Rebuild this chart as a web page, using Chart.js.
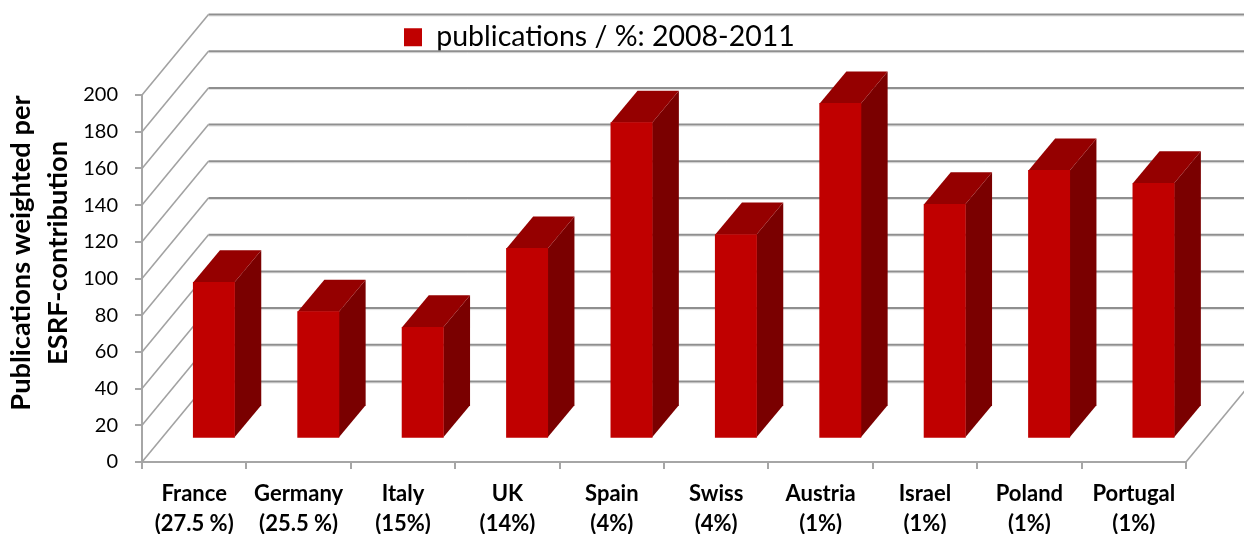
<!DOCTYPE html>
<html>
<head>
<meta charset="utf-8">
<style>
  html, body { margin: 0; padding: 0; background: #fff; }
  canvas { display: block; }
</style>
</head>
<body>
<canvas id="chart-1" width="1244" height="534"></canvas>
<script src="https://cdn.jsdelivr.net/npm/chart.js@4"></script>
<script>
const categories = [
    ['France', '(27.5 %)'], ['Germany', '(25.5 %)'], ['Italy', '(15%)'], ['UK', '(14%)'], ['Spain', '(4%)'],
    ['Swiss', '(4%)'], ['Austria', '(1%)'], ['Israel', '(1%)'], ['Poland', '(1%)'], ['Portugal', '(1%)']
];
const publications = [85, 69, 60.5, 103.5, 172, 111, 182.5, 127.5, 146, 139];
const seriesName = 'publications / %: 2008-2011';
const axisTitle = ['Publications weighted per', 'ESRF-contribution'];

const fontName = 'Lato, Carlito, "Open Sans", sans-serif';
const wallDepth = { x: 66.5, y: -80.5 };     // back wall offset from the front axes
const barShift = { x: 19.7, y: -23.7 };      // bars stand part way into the floor
const barDepth = { x: 26.7, y: -32 };

function line(ctx, x1, y1, x2, y2) {
    ctx.beginPath();
    ctx.moveTo(x1, y1);
    ctx.lineTo(x2, y2);
    ctx.stroke();
}

function face(ctx, color, pts) {
    ctx.fillStyle = color;
    ctx.beginPath();
    pts.forEach((p, i) => i ? ctx.lineTo(p[0], p[1]) : ctx.moveTo(p[0], p[1]));
    ctx.closePath();
    ctx.fill();
}

const wallsPlugin = {
    id: 'walls',
    beforeDraw(chart) {
        // legend sits over the back wall, not in its own layout row
        const legend = chart.legend;
        legend.left = 394;
        legend.top = 13;
    },
    beforeDatasetsDraw(chart) {
        const ctx = chart.ctx;
        const y = chart.scales.y;
        const left = chart.chartArea.left;
        const right = chart.chartArea.right;
        ctx.save();
        y.ticks.forEach(t => {
            const py = y.getPixelForValue(t.value);
            ctx.strokeStyle = '#a2a2a2';
            ctx.lineWidth = 1.6;
            line(ctx, left, py, left + wallDepth.x, py + wallDepth.y);
            ctx.strokeStyle = '#e0e0e0';
            ctx.lineWidth = 1;
            line(ctx, left + wallDepth.x, py + wallDepth.y + 1.5, chart.width, py + wallDepth.y + 1.5);
            ctx.strokeStyle = '#8f8f8f';
            ctx.lineWidth = 2;
            line(ctx, left + wallDepth.x, py + wallDepth.y, chart.width, py + wallDepth.y);
        });
        const floor = y.getPixelForValue(0);
        ctx.strokeStyle = '#a2a2a2';
        ctx.lineWidth = 1.6;
        line(ctx, right, floor, right + wallDepth.x, floor + wallDepth.y);
        ctx.restore();
    },
    beforeDatasetDraw(chart) {
        const ctx = chart.ctx;
        ctx.save();
        ctx.translate(barShift.x, barShift.y);
        chart.getDatasetMeta(0).data.forEach(bar => {
            const l = bar.x - bar.width / 2;
            const r = bar.x + bar.width / 2;
            const d = barDepth;
            face(ctx, '#7a0000', [[r, bar.y], [r + d.x, bar.y + d.y], [r + d.x, bar.base + d.y], [r, bar.base]]);
            face(ctx, '#950000', [[l, bar.y], [l + d.x, bar.y + d.y], [r + d.x, bar.y + d.y], [r, bar.y]]);
        });
    },
    afterDatasetDraw(chart) {
        chart.ctx.restore();
    },
    afterDraw(chart) {
        const ctx = chart.ctx;
        ctx.save();
        ctx.fillStyle = '#000';
        ctx.font = 'bold 27.3px ' + fontName;
        ctx.textAlign = 'center';
        ctx.textBaseline = 'middle';
        ctx.translate(21, 253);
        ctx.rotate(-Math.PI / 2);
        ctx.fillText(axisTitle[0], 0, 0);
        ctx.fillText(axisTitle[1], 0, 37);
        ctx.restore();
    }
};

const axisGrey = '#a6a6a6';

new Chart(document.getElementById('chart-1').getContext('2d'), {
    type: 'bar',
    data: {
        labels: categories,
        datasets: [{
            label: seriesName,
            data: publications,
            backgroundColor: '#c00000',
            borderWidth: 0,
            barThickness: 41.3,
            clip: false
        }]
    },
    options: {
        responsive: false,
        animation: false,
        layout: { autoPadding: false, padding: { top: 95, right: 58, bottom: 0, left: 0 } },
        plugins: {
            tooltip: { enabled: false },
            legend: {
                position: 'chartArea',
                align: 'start',
                labels: {
                    boxWidth: 18,
                    boxHeight: 18,
                    color: '#000',
                    font: { family: fontName, size: 28.5 }
                }
            }
        },
        scales: {
            x: {
                afterFit: s => { s.height = 72; },
                border: { color: axisGrey, width: 2 },
                grid: { color: axisGrey, lineWidth: 2, drawOnChartArea: false, tickLength: 7 },
                ticks: {
                    color: '#000',
                    padding: 10,
                    maxRotation: 0,
                    autoSkip: false,
                    font: { family: fontName, size: 22, weight: 'bold', lineHeight: 1.35 }
                }
            },
            y: {
                min: 0,
                max: 200,
                afterFit: s => { s.width = 142; },
                border: { color: axisGrey, width: 2 },
                grid: { color: axisGrey, lineWidth: 2, drawOnChartArea: false, tickLength: 7 },
                ticks: {
                    stepSize: 20,
                    color: '#000',
                    padding: 17,
                    font: { family: fontName, size: 20 }
                }
            }
        }
    },
    plugins: [wallsPlugin]
});
</script>
</body>
</html>
